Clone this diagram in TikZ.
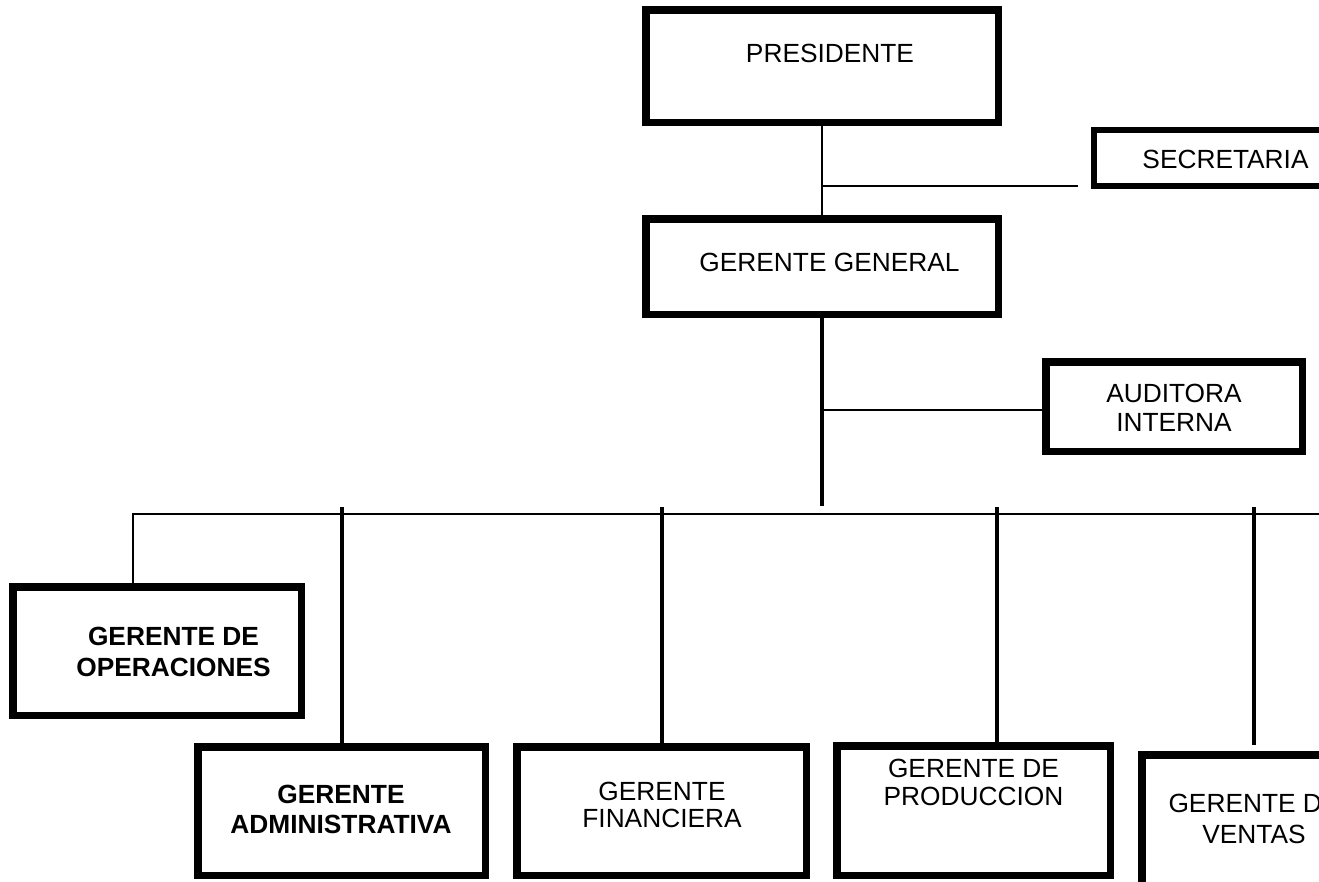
\documentclass[tikz,border=0pt]{standalone}
\usepackage{fontspec}
\setmainfont{Liberation Sans}
\begin{document}
\begin{tikzpicture}[x=1pt,y=-1pt,
  box/.style={draw, rectangle, line width=7.5pt, inner sep=0pt, outer sep=0pt},
  lbl/.style={align=center, anchor=base, inner sep=0pt,
              font=\fontsize{26.3}{#1}\selectfont},
  lbl/.default=30,
  lblbold/.style={align=center, anchor=base, inner sep=0pt,
              font=\fontsize{26.3}{#1}\selectfont\bfseries},
  lblbold/.default=30,
  thinlink/.style={line width=2pt},
  thicklink/.style={line width=4pt}]
\useasboundingbox (0,0) rectangle (1319,881);
\clip (0,0) rectangle (1319,881);

% boxes
\node[box, minimum width=352.5pt, minimum height=112.5pt] (pres) at (822,66) {};
\node[box, minimum width=352.5pt, minimum height=95.5pt] (gg) at (822,266.5) {};
\node[box, line width=6pt, minimum width=266pt, minimum height=56pt] (sec) at (1227,158) {};
\node[box, minimum width=256.5pt, minimum height=89.5pt] (aud) at (1174,406.5) {};
\node[box, minimum width=288.5pt, minimum height=128.5pt] (ops) at (157,651) {};
\node[box, minimum width=287.5pt, minimum height=128.5pt] (adm) at (341.5,811) {};
\node[box, minimum width=289.5pt, minimum height=128.5pt] (fin) at (661.5,811) {};
\node[box, minimum width=273.5pt, minimum height=129.5pt] (prod) at (973.5,810.5) {};
\node[box, minimum width=224.5pt, minimum height=140pt] (ven) at (1254,825) {};

% labels (base anchor sits on the last line of a two-line label)
\node[lbl] (presT) at (830,62) {PRESIDENTE};
\node[lbl] (ggT) at (829.5,271) {GERENTE GENERAL};
\node[lbl] (secT) at (1225.5,168) {SECRETARIA};
\node[lbl=29] (audT) at (1174,431) {AUDITORA\\INTERNA};
\node[lblbold=31] (opsT) at (173.5,676) {GERENTE DE\\OPERACIONES};
\node[lblbold=30] (admT) at (341,833) {GERENTE\\ADMINISTRATIVA};
\node[lbl=27] (finT) at (662,827) {GERENTE\\FINANCIERA};
\node[lbl=28] (prodT) at (973.5,805) {GERENTE DE\\PRODUCCION};
\node[lbl=31] (venT) at (1254,843) {GERENTE DE\\VENTAS};

% junction points and free ends
\coordinate (secJ) at (822,186);
\coordinate (secEnd) at (1078,186);
\coordinate (audJ) at (822,410);
\coordinate (hub) at (822,506);
\coordinate (busL) at (133,514);
\coordinate (busR) at (1319,514);
\coordinate (tAdm) at (342,507);
\coordinate (tFin) at (662,507);
\coordinate (tProd) at (997,507);
\coordinate (tVen) at (1254,507);
\coordinate (venEnd) at (1254,745);

% connectors
\draw[thinlink] (pres.south) -- (gg.north);
\draw[thinlink] (secJ) -- (secEnd);
\draw[thicklink] (gg.south) -- (hub);
\draw[thinlink] (audJ) -- (audJ -| aud.west);
\draw[thinlink] (busR) -- (busL) -- (busL |- ops.north);
\draw[thicklink] (tAdm) -- (tAdm |- adm.north);
\draw[thicklink] (tFin) -- (tFin |- fin.north);
\draw[thicklink] (tProd) -- (tProd |- prod.north);
\draw[thicklink] (tVen) -- (venEnd);
\end{tikzpicture}
\end{document}
